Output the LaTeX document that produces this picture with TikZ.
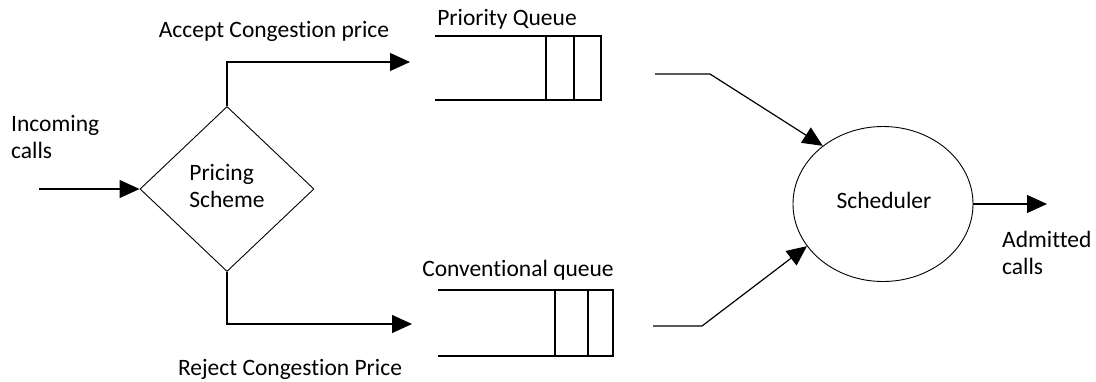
\documentclass[tikz,border=0pt]{standalone}
\usepackage{fontspec}
\setmainfont{Carlito}[Ligatures=CommonOff]
\usetikzlibrary{shapes.geometric,arrows.meta}

\tikzset{
  lbl/.style={font=\fontsize{23.5}{27}\selectfont, inner sep=0pt, text=black},
  flow/.style={line width=1.2pt, -{Triangle[length=20pt,width=18pt]}},
  qline/.style={line width=1.5pt},
  decision/.style={diamond, draw, line width=0.9pt, inner sep=0pt,
                   minimum width=174pt, minimum height=165pt},
  sched/.style={ellipse, draw, line width=0.9pt, inner sep=0pt,
                minimum width=180pt, minimum height=155pt},
  qbox/.style={rectangle, draw=none, inner sep=0pt}
}

\begin{document}
\begin{tikzpicture}[x=1pt,y=-1pt]
\useasboundingbox (0,0) rectangle (1096,381);

% pricing decision and scheduler
\node[decision] (ps) at (227,189) {};
\node[lbl, align=left] (pstext) at (227,186) {Pricing\\Scheme};
\node[sched] (sch) at (883,204) {};
\node[lbl] (schtext) at (884,200) {Scheduler};

% priority queue: open on the left, two slots on the right
\node[qbox, minimum width=166pt, minimum height=64pt] (pq) at (518,68) {};
\draw[qline] (pq.north west) -- (pq.north east) -- (pq.south east) -- (pq.south west);
\draw[qline] ([xshift=-27pt]pq.north east) -- ([xshift=-27pt]pq.south east);
\draw[qline] ([xshift=-55pt]pq.north east) -- ([xshift=-55pt]pq.south east);

% conventional queue
\node[qbox, minimum width=175pt, minimum height=66pt] (cq) at (525.5,323) {};
\draw[qline] (cq.north west) -- (cq.north east) -- (cq.south east) -- (cq.south west);
\draw[qline] ([xshift=-25pt]cq.north east) -- ([xshift=-25pt]cq.south east);
\draw[qline] ([xshift=-58pt]cq.north east) -- ([xshift=-58pt]cq.south east);

% free ends of the connectors
\coordinate (src) at (39,189);
\coordinate (acc) at (410,62);
\coordinate (rej) at (412,324);
\coordinate (pqout) at (655,74);
\coordinate (pqbend) at (710,74);
\coordinate (cqout) at (653,326);
\coordinate (cqbend) at (702,326);
\coordinate (sink) at (1047,204);

% connectors
\draw[flow] (src) -- (ps.west);
\draw[flow] (ps.north) |- (acc);
\draw[flow] (ps.south) |- (rej);
\draw[flow] (pqout) -- (pqbend) -- (sch.136);
\draw[flow] (cqout) -- (cqbend) -- (sch.209);
\draw[flow] (sch.east) -- (sink);

% labels
\node[lbl, anchor=base] (lacc) at (274,37) {Accept Congestion price};
\node[lbl, anchor=base] (lrej) at (290,375) {Reject Congestion Price};
\node[lbl, anchor=base] (lpq) at (507,25) {Priority Queue};
\node[lbl, anchor=base] (lcq) at (518,276) {Conventional queue};
\node[lbl, align=left, anchor=north west] (lin) at (11,115) {Incoming\\calls};
\node[lbl, align=left, anchor=north west] (lout) at (1002,231) {Admitted\\calls};
\end{tikzpicture}
\end{document}
